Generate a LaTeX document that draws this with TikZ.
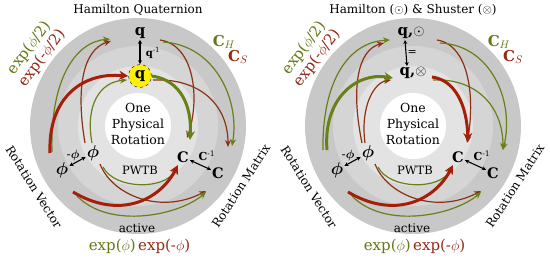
\documentclass[tikz,border=0pt]{standalone}
\usepackage{amsmath}
\usepackage{fontspec}
\setmainfont{DejaVu Serif}
\usetikzlibrary{arrows.meta}
\definecolor{ringA}{RGB}{200,200,200}
\definecolor{ringB}{RGB}{213,213,213}
\definecolor{ringC}{RGB}{227,227,227}
\definecolor{hgreen}{RGB}{104,128,24}
\definecolor{hbrown}{RGB}{140,50,20}
\definecolor{hred}{RGB}{165,30,10}
\definecolor{tgreen}{RGB}{100,120,20}
\definecolor{tred}{RGB}{150,40,20}
\newcommand{\myfs}[1]{\fontsize{#1}{#1}\selectfont}
\begin{document}
\begin{tikzpicture}[x=1pt,y=1pt,
  every node/.style={inner sep=1pt},
  tg/.style={draw=hgreen,line width=1.2pt,-{Stealth[length=7pt,width=6pt]}},
  tr/.style={draw=hbrown,line width=1.2pt,-{Stealth[length=7pt,width=6pt]}},
  kg/.style={draw=hgreen,line width=3pt,-{Stealth[length=9pt,width=9pt]}},
  kr/.style={draw=hred,line width=3pt,-{Stealth[length=9pt,width=9pt]}},
  sw/.style={black,line width=1.1pt,{Stealth[length=4pt,width=4pt]}-{Stealth[length=4pt,width=4pt]}},
  ttl/.style={font=\myfs{12}},
  bigq/.style={font=\bfseries\myfs{15}},
  bigc/.style={font=\bfseries\myfs{14.5}},
  bigp/.style={font=\myfs{16}},
  ctr/.style={font=\fontsize{12.5}{16}\selectfont,align=center},
  ring/.style={font=\myfs{12}},
  expt/.style={font=\myfs{15}},
  cht/.style={font=\bfseries\myfs{15}},
  small/.style={font=\myfs{11}}
]
\useasboundingbox (0,0) rectangle (550,260);
\foreach \cx in {138,413} {
  \fill[ringA] (\cx,134) circle[radius=108];
  \fill[ringB] (\cx,134) circle[radius=80];
  \fill[ringC] (\cx,134) circle[radius=60];
  \fill[white] (\cx,134) circle[radius=33];
}
% ---------------- left panel ----------------
\node[ttl] (Lt) at (138,250) {Hamilton Quaternion};
\node[bigq] (Lqo) at (140,227) {q};
\node[circle,fill=yellow,draw=black!75,dashed,line width=0.6pt,minimum size=23pt,inner sep=0pt,font=\bfseries\myfs{15}] (Lqi) at (140,184) {q};
\node[ctr] (Lctr) at (138,136) {One\\Physical\\Rotation};
\node[bigp] (Lpo) at (62,90) {$\boldsymbol{\phi}$};
\node[bigp] (Lpi) at (93,107) {$\boldsymbol{\phi}$};
\node[bigc] (Lci) at (183,103) {C};
\node[bigc] (Lco) at (218,87) {C};
\node[font=\myfs{11.5}] (Lpw) at (140,90) {PWTB};
\node[ttl] (Lac) at (137,32) {active};
\node[expt,text=tgreen,anchor=east] (Le1) at (137,14) {exp($\phi$)};
\node[expt,text=tred,anchor=west] (Le2) at (137,14) {exp(-$\phi$)};
\node[expt,text=tgreen,rotate=53] (Lh1) at (29,212) {exp($\phi$/2)};
\node[expt,text=tred,rotate=53] (Lh2) at (42,202) {exp(-$\phi$/2)};
\node[ring,rotate=-58] (Lrv) at (34,73) {Rotation Vector};
\node[ring,rotate=57] (Lrm) at (241,74) {Rotation Matrix};
\node[cht,text=tgreen] (Lch) at (224,218) {C$_H$};
\node[cht,text=tred] (Lcs) at (238,203) {C$_S$};
\node[font=\bfseries\myfs{10}] (Lqinv) at (153,207) {q\textsuperscript{\mdseries -1}};
\node[font=\myfs{12}] (Lmp) at (73,104) {-$\boldsymbol{\phi}$};
\node[font=\bfseries\myfs{11}] (Lcinv) at (207,104) {C\textsuperscript{\mdseries -1}};
\draw[sw] (Lqo) -- (Lqi);
\draw[sw] (Lpo) -- (Lpi);
\draw[sw] (Lci) -- (Lco);
% arrows upper left
\draw[tg] ([shift={(-10,18)}]Lpo.center) .. controls (50,180) and (75,218) .. ([shift={(-30,-6)}]Lqo.center);
\draw[tr] ([shift={(-8,10)}]Lpi.center) .. controls (76,170) and (82,210) .. ([shift={(-29,-8)}]Lqo.center);
\draw[tg] ([shift={(-1,10)}]Lpi.center) .. controls (85,155) and (100,178) .. ([shift={(-13,-4)}]Lqi.center);
\draw[kr] ([shift={(-12,17)}]Lpo.center) .. controls (48,160) and (80,188) .. (Lqi.west);
% arrows upper right
\draw[tr] ([shift={(13,-4)}]Lqi.center) .. controls (200,182) and (228,155) .. ([shift={(10,26)}]Lco.center);
\draw[tr] ([shift={(20,-7)}]Lqo.center) .. controls (195,215) and (200,160) .. ([shift={(4,19)}]Lci.center);
\draw[tg] ([shift={(23,-9)}]Lqo.center) .. controls (215,215) and (240,160) .. ([shift={(14,27)}]Lco.center);
\draw[kg] (Lqi.east) .. controls (180,180) and (192,155) .. ([shift={(7,17)}]Lci.center);
% arrows lower
\draw[tg] ([shift={(10,-14)}]Lpi.center) .. controls (115,70) and (165,70) .. ([shift={(-6,-10)}]Lci.center);
\draw[tr] ([shift={(7,-11)}]Lpi.center) .. controls (112,65) and (160,45) .. ([shift={(-12,-18)}]Lco.center);
\draw[tg] ([shift={(15,-26)}]Lpo.center) .. controls (110,30) and (180,45) .. ([shift={(-12,-19)}]Lco.center);
\draw[kr] ([shift={(11,-22)}]Lpo.center) .. controls (120,40) and (160,60) .. ([shift={(-5,-8)}]Lci.center);
% ---------------- right panel ----------------
\node[ttl] (Rt) at (413,250) {Hamilton ($\odot$) \& Shuster ($\otimes$)};
\node[bigq] (Rqo) at (411,227) {q,$\odot$};
\node[bigq] (Rqi) at (413,187) {q,$\otimes$};
\node[ctr] (Rctr) at (413,136) {One\\Physical\\Rotation};
\node[bigp] (Rpo) at (337,90) {$\boldsymbol{\phi}$};
\node[bigp] (Rpi) at (368,107) {$\boldsymbol{\phi}$};
\node[bigc] (Rci) at (458,103) {C};
\node[bigc] (Rco) at (493,87) {C};
\node[font=\myfs{11.5}] (Rpw) at (415,90) {PWTB};
\node[ttl] (Rac) at (412,32) {active};
\node[expt,text=tgreen,anchor=east] (Re1) at (412,14) {exp($\phi$)};
\node[expt,text=tred,anchor=west] (Re2) at (412,14) {exp(-$\phi$)};
\node[expt,text=tgreen,rotate=53] (Rh1) at (304,212) {exp($\phi$/2)};
\node[expt,text=tred,rotate=53] (Rh2) at (317,202) {exp(-$\phi$/2)};
\node[ring,rotate=-58] (Rrv) at (309,73) {Rotation Vector};
\node[ring,rotate=57] (Rrm) at (515,74) {Rotation Matrix};
\node[cht,text=tgreen] (Rch) at (499,218) {C$_H$};
\node[cht,text=tred] (Rcs) at (513,203) {C$_S$};
\node[font=\myfs{12}] (Rmp) at (348,104) {-$\boldsymbol{\phi}$};
\node[font=\bfseries\myfs{11}] (Rcinv) at (482,104) {C\textsuperscript{\mdseries -1}};
\draw[sw] ([xshift=-6pt]Rqo.south) -- ([xshift=-6pt]Rqi.north) node[midway,right,small] {=};
\draw[sw] (Rpo) -- (Rpi);
\draw[sw] (Rci) -- (Rco);
% arrows upper left
\draw[tg] ([shift={(-14,20)}]Rpo.center) .. controls (322,178) and (348,218) .. ([shift={(-21,-7)}]Rqo.center);
\draw[tr] ([shift={(-6,10)}]Rpi.center) .. controls (351,170) and (357,210) .. ([shift={(-27,-10)}]Rqo.center);
\draw[tr] ([shift={(-3,10)}]Rpi.center) .. controls (360,155) and (375,178) .. ([shift={(-22,-7)}]Rqi.center);
\draw[kg] ([shift={(-10,20)}]Rpo.center) .. controls (323,160) and (355,188) .. ([shift={(-20,-5)}]Rqi.center);
% arrows upper right
\draw[tg] ([shift={(20,-7)}]Rqi.center) .. controls (475,182) and (503,155) .. ([shift={(10,23)}]Rco.center);
\draw[tr] ([shift={(26,-7)}]Rqo.center) .. controls (470,215) and (475,160) .. ([shift={(9,14)}]Rci.center);
\draw[tg] ([shift={(29,-10)}]Rqo.center) .. controls (490,215) and (515,160) .. ([shift={(10,23)}]Rco.center);
\draw[kr] ([shift={(19,-4)}]Rqi.center) .. controls (455,180) and (467,155) .. ([shift={(10,15)}]Rci.center);
% arrows lower
\draw[tg] ([shift={(10,-14)}]Rpi.center) .. controls (390,70) and (440,70) .. ([shift={(-6,-10)}]Rci.center);
\draw[tr] ([shift={(7,-11)}]Rpi.center) .. controls (387,65) and (435,45) .. ([shift={(-12,-18)}]Rco.center);
\draw[tg] ([shift={(15,-26)}]Rpo.center) .. controls (385,30) and (455,45) .. ([shift={(-12,-19)}]Rco.center);
\draw[kr] ([shift={(11,-22)}]Rpo.center) .. controls (395,40) and (435,60) .. ([shift={(-5,-8)}]Rci.center);
\end{tikzpicture}
\end{document}
